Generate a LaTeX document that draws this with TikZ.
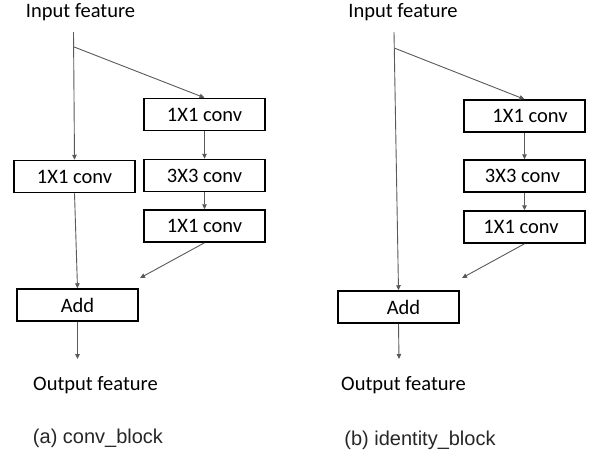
\documentclass[tikz,border=0pt]{standalone}
\usepackage{fontspec}
\setmainfont{Carlito}
\newfontfamily\capfont{Liberation Sans}
\usetikzlibrary{arrows.meta}
\begin{document}
\begin{tikzpicture}[x=1pt,y=-1pt,
  layer/.style={draw=black,line width=1.5pt,minimum width=121pt,minimum height=32pt,
    inner sep=0pt,font=\fontsize{20.5}{24}\selectfont},
  plain/.style={inner sep=0pt,font=\fontsize{20.5}{24}\selectfont},
  caption/.style={inner sep=0pt,text=black!85,font=\capfont\fontsize{20}{24}\selectfont},
  flow/.style={draw=black!65,line width=0.9pt,-{Triangle[length=5pt,width=4.5pt]}}]
\useasboundingbox (0,0) rectangle (597,456);

% (a) conv_block
\node[plain] (in1) at (80.5,12) {Input feature};
\coordinate (s1) at (73.5,32);
\coordinate (b1) at (74.2,47);
\node[layer] (c1) at (74.5,176.5) {1X1 conv};
\node[layer] (r1) at (204.5,114.5) {1X1 conv};
\node[layer] (r2) at (204.5,175.5) {3X3 conv};
\node[layer] (r3) at (204.5,226) {1X1 conv};
\node[layer] (add1) at (77.5,305) {Add};
\coordinate (e1) at (140,278);
\coordinate (o1) at (77.5,359);
\node[plain] (out1) at (95.5,385) {Output feature};
\node[caption] (cap1) at (98,438) {(a) conv\_block};

\draw[flow] (s1) -- (c1.north);
\draw[flow] (b1) -- (r1.north);
\draw[flow] (r1) -- (r2);
\draw[flow] (r2) -- (r3);
\draw[flow] (c1.south) -- (add1.north);
\draw[flow] (r3.south) -- (e1);
\draw[flow] (add1.south) -- (o1);

% (b) identity_block
\node[plain] (in2) at (403,12) {Input feature};
\coordinate (s2) at (394,32);
\coordinate (b2) at (394.2,48);
\node[layer] (r4) at (524.5,116) {\hspace*{11pt}1X1 conv};
\node[layer] (r5) at (524.5,176) {3X3 conv\hspace*{4pt}};
\node[layer] (r6) at (524.5,227) {1X1 conv\hspace*{7pt}};
\node[layer] (add2) at (398.5,307) {\hspace*{10pt}Add};
\coordinate (e2) at (462,278);
\coordinate (o2) at (399,359);
\node[plain] (out2) at (403.5,385) {Output feature};
\node[caption] (cap2) at (420,440) {(b) identity\_block};

\draw[flow] (s2) -- (add2.north);
\draw[flow] (b2) -- (r4.north);
\draw[flow] (r4) -- (r5);
\draw[flow] (r5) -- (r6);
\draw[flow] (r6.south) -- (e2);
\draw[flow] (add2.south) -- (o2);
\end{tikzpicture}
\end{document}
